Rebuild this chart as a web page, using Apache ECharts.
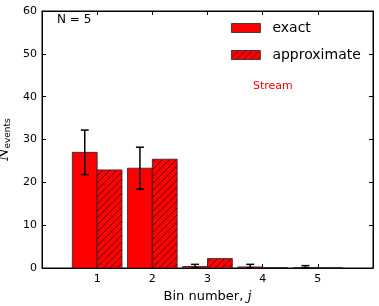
<!DOCTYPE html>
<html><head><meta charset="utf-8">
<script src="https://cdn.jsdelivr.net/npm/echarts@6/dist/echarts.min.js"></script>
<style>html,body{margin:0;padding:0;background:#fff}#c{width:379px;height:306px}</style>
</head><body><div id="c"></div>
<script>
var bins = [1, 2, 3, 4, 5];
var exactValues = [27.0, 23.3, 0.35, 0.25, 0.1];
var exactErrors = [5.2, 4.9, 0.5, 0.6, 0.45];
var approxValues = [22.9, 25.4, 2.2, 0.1, 0.05];
var yTicks = [0, 10, 20, 30, 40, 50, 60];

var BAR_W = 0.45;
var pc = document.createElement('canvas');
pc.width = 7; pc.height = 7;
var g = pc.getContext('2d');
g.fillStyle = '#ff0000'; g.fillRect(0, 0, 7, 7);
g.strokeStyle = '#000'; g.lineWidth = 0.6;
g.beginPath(); g.moveTo(-1, 8); g.lineTo(8, -1); g.stroke();
var hatch = {image: pc, repeat: 'repeat'};

var chart = echarts.init(document.getElementById('c'), null, {renderer: 'canvas'});
var font = 'DejaVu Sans';

function barItem(offset, fill) {
  return function (params, api) {
    var j = api.value(0), v = api.value(1);
    var p0 = api.coord([j + offset, v]);
    var p1 = api.coord([j + offset + BAR_W, 0]);
    return {
      type: 'rect',
      shape: {x: p0[0], y: p0[1], width: p1[0] - p0[0], height: p1[1] - p0[1]},
      style: {fill: fill, stroke: '#222', lineWidth: 0.8}
    };
  };
}

chart.setOption({
  animation: false,
  textStyle: {fontFamily: font},
  grid: {left: 42, right: 6, top: 11, bottom: 38, outerBoundsMode: 'none',
    show: true, borderColor: '#000', borderWidth: 1, backgroundColor: 'transparent'},
  title: [
    {text: 'N = 5', left: 57, top: 14, padding: 0, textStyle: {fontSize: 12, fontWeight: 'normal', color: '#000', fontFamily: font}},
    {text: 'Stream', left: 253, top: 81, padding: 0, textStyle: {fontSize: 11, fontWeight: 'normal', color: '#ff0000', fontFamily: font}}
  ],
  legend: {
    left: 231, top: 21, padding: 0, orient: 'vertical', itemWidth: 29, itemHeight: 9, itemGap: 13, icon: 'rect',
    textStyle: {fontSize: 14, color: '#000', fontFamily: font, padding: [0, 0, 0, 7]},
    data: [
      {name: 'exact', icon: 'rect', itemStyle: {color: '#ff0000', borderColor: '#222', borderWidth: 0.8}},
      {name: 'approximate', icon: 'rect', itemStyle: {color: hatch, borderColor: '#222', borderWidth: 0.8}}
    ]
  },
  xAxis: [
    {type: 'value', min: 0, max: 6, interval: 1, position: 'bottom',
      name: 'Bin number, {j|j}', nameLocation: 'middle', nameGap: 20,
      nameTextStyle: {fontSize: 13, color: '#000', fontFamily: font, rich: {j: {fontSize: 13, fontStyle: 'italic', fontFamily: 'DejaVu Serif'}}},
      axisLine: {show: true, onZero: false, lineStyle: {color: '#000'}},
      axisTick: {show: true, inside: true, length: 4, lineStyle: {color: '#000'}},
      splitLine: {show: false},
      axisLabel: {fontSize: 11, color: '#000', margin: 6, formatter: function (v) { return bins.indexOf(v) >= 0 ? String(v) : ''; }}},
    {type: 'value', min: 0, max: 6, interval: 1, position: 'top',
      axisLine: {show: true, onZero: false, lineStyle: {color: '#000'}},
      axisTick: {show: true, inside: true, length: 4, lineStyle: {color: '#000'}},
      splitLine: {show: false}, axisLabel: {show: false}}
  ],
  yAxis: [
    {type: 'value', min: yTicks[0], max: yTicks[yTicks.length - 1], interval: 10,
      name: '{n|N}{s|events}', nameLocation: 'middle', nameGap: 22,
      nameTextStyle: {color: '#000', rich: {
        n: {fontSize: 14, fontStyle: 'italic', fontFamily: 'DejaVu Serif', color: '#000'},
        s: {fontSize: 9, fontFamily: font, color: '#000', padding: [7, 0, 0, 0]}
      }},
      axisLine: {show: true, onZero: false, lineStyle: {color: '#000'}},
      axisTick: {show: true, inside: true, length: 4, lineStyle: {color: '#000'}},
      splitLine: {show: false},
      axisLabel: {fontSize: 11, color: '#000', margin: 5}},
    {type: 'value', min: 0, max: 60, interval: 10, position: 'right',
      axisLine: {show: true, onZero: false, lineStyle: {color: '#000'}},
      axisTick: {show: true, inside: true, length: 4, lineStyle: {color: '#000'}},
      splitLine: {show: false}, axisLabel: {show: false}}
  ],
  series: [
    {name: 'exact', type: 'custom', itemStyle: {color: '#ff0000'},
      data: bins.map(function (b, i) { return [b, exactValues[i]]; }),
      renderItem: barItem(-BAR_W, '#ff0000'), z: 2},
    {name: 'approximate', type: 'custom', itemStyle: {color: hatch},
      data: bins.map(function (b, i) { return [b, approxValues[i]]; }),
      renderItem: barItem(0, hatch), z: 2},
    {name: 'err', type: 'custom', z: 3, xAxisIndex: 1, yAxisIndex: 1,
      data: bins.map(function (b, i) { return [b, exactValues[i] - exactErrors[i], exactValues[i] + exactErrors[i]]; }),
      renderItem: function (params, api) {
        var x = api.value(0) - BAR_W / 2;
        var lo = api.coord([x, Math.max(0, api.value(1))]);
        var hi = api.coord([x, api.value(2)]);
        var c = 4;
        var st = {stroke: '#000', lineWidth: 1.5};
        return {type: 'group', children: [
          {type: 'line', shape: {x1: lo[0], y1: lo[1], x2: hi[0], y2: hi[1]}, style: st},
          {type: 'line', shape: {x1: lo[0] - c, y1: lo[1], x2: lo[0] + c, y2: lo[1]}, style: st},
          {type: 'line', shape: {x1: hi[0] - c, y1: hi[1], x2: hi[0] + c, y2: hi[1]}, style: st}
        ]};
      }}
  ]
});
</script></body></html>
